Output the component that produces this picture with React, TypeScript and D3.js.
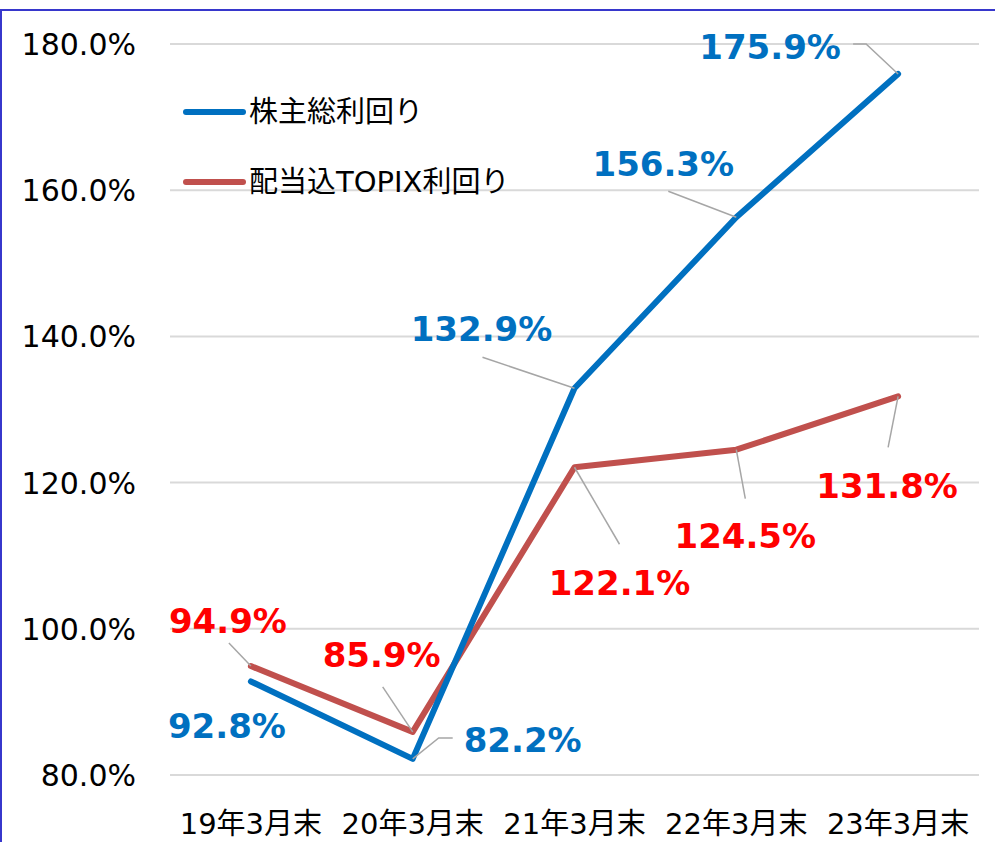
import React from "react";
import * as d3 from "d3";

const categories = ["19年3月末", "20年3月末", "21年3月末", "22年3月末", "23年3月末"];
const tsrValues = [92.8, 82.2, 132.9, 156.3, 175.9];
const topixValues = [94.9, 85.9, 122.1, 124.5, 131.8];
const yTicks = [80, 100, 120, 140, 160, 180];
const seriesNames = ["株主総利回り", "配当込TOPIX利回り"];

// label layout: [dx, dy(baseline)] relative to point, plus leader polyline offsets
const tsrLabelLayout = [
  { dx: -24, dy: 57, leader: [] as number[][] },
  { dx: 110, dy: -7, leader: [[40, -21], [26, -21], [0, 0]] },
  { dx: -93, dy: -47, leader: [[-92, -31], [0, 0]] },
  { dx: -73, dy: -41, leader: [[-68, -26], [0, 0]] },
  { dx: -128, dy: -15, leader: [[-45, -30], [-32, -30], [0, 0]] },
];
const topixLabelLayout = [
  { dx: -23, dy: -33, leader: [[-22, -23], [0, 0]] },
  { dx: -31, dy: -65, leader: [[-30, -45], [0, 0]] },
  { dx: 45, dy: 128, leader: [[45, 77], [0, 0]] },
  { dx: 9, dy: 98, leader: [[9, 49], [0, 0]] },
  { dx: -11, dy: 102, leader: [[-10, 51], [0, 0]] },
];

const W = 995;
const H = 842;
const margin = { left: 170, right: 16, top: 44, bottom: 67 };

export default function App() {
  const x = d3
    .scaleBand<string>()
    .domain(categories)
    .range([margin.left, W - margin.right])
    .padding(0);
  const y = d3
    .scaleLinear()
    .domain([80, 180])
    .range([H - margin.bottom, margin.top]);
  const cx = (c: string) => (x(c) as number) + x.bandwidth() / 2;

  const line = d3
    .line<number>()
    .x((_, i) => cx(categories[i]))
    .y((d) => y(d));

  const font = "'DejaVu Sans', 'Noto Sans CJK JP', sans-serif";
  const blue = "#0070C0";
  const redLine = "#C0504D";
  const redText = "#FF0000";
  const leaderColor = "#A6A6A6";

  const renderLabels = (
    values: number[],
    layout: { dx: number; dy: number; leader: number[][] }[],
    color: string,
    key: string
  ) =>
    values.map((v, i) => {
      const px = cx(categories[i]);
      const py = y(v);
      const l = layout[i];
      return (
        <g key={key + i}>
          {l.leader.length > 0 && (
            <polyline
              points={l.leader.map((p) => `${px + p[0]},${py + p[1]}`).join(" ")}
              fill="none"
              stroke={leaderColor}
              strokeWidth={1.5}
            />
          )}
          <text
            x={px + l.dx}
            y={py + l.dy}
            textAnchor="middle"
            fontFamily={font}
            fontWeight="bold"
            fontSize={34}
            fill={color}
          >
            {v.toFixed(1)}%
          </text>
        </g>
      );
    });

  return (
    <svg
      width={W}
      height={H}
      style={{ position: "absolute", left: 0, top: 0, background: "#fff" }}
    >
      <rect x={0} y={0} width={W} height={H} fill="#fff" />
      <rect x={1} y={10} width={1100} height={1000} fill="none" stroke="#3737CC" strokeWidth={2} />
      {yTicks.map((t) => (
        <g key={t}>
          <line
            x1={margin.left}
            x2={W - margin.right}
            y1={y(t)}
            y2={y(t)}
            stroke="#D9D9D9"
            strokeWidth={2}
          />
          <text
            x={136}
            y={y(t) + 11}
            textAnchor="end"
            fontFamily={font}
            fontSize={30}
            fill="#000"
          >
            {t.toFixed(1)}%
          </text>
        </g>
      ))}
      {categories.map((c) => (
        <text
          key={c}
          x={cx(c)}
          y={834}
          textAnchor="middle"
          fontFamily={font}
          fontSize={29}
          fill="#000"
        >
          {c}
        </text>
      ))}
      <path d={line(topixValues) || ""} fill="none" stroke={redLine} strokeWidth={6} strokeLinecap="round" strokeLinejoin="round" />
      <path d={line(tsrValues) || ""} fill="none" stroke={blue} strokeWidth={6} strokeLinecap="round" strokeLinejoin="round" />
      {renderLabels(topixValues, topixLabelLayout, redText, "r")}
      {renderLabels(tsrValues, tsrLabelLayout, blue, "b")}
      {/* legend */}
      <line x1={186} x2={243} y1={112} y2={112} stroke={blue} strokeWidth={6} strokeLinecap="round" />
      <text x={249} y={122} fontFamily={font} fontSize={29} fill="#000">
        {seriesNames[0]}
      </text>
      <line x1={186} x2={243} y1={182} y2={182} stroke={redLine} strokeWidth={6} strokeLinecap="round" />
      <text x={249} y={192} fontFamily={font} fontSize={29} fill="#000">
        {seriesNames[1]}
      </text>
    </svg>
  );
}
